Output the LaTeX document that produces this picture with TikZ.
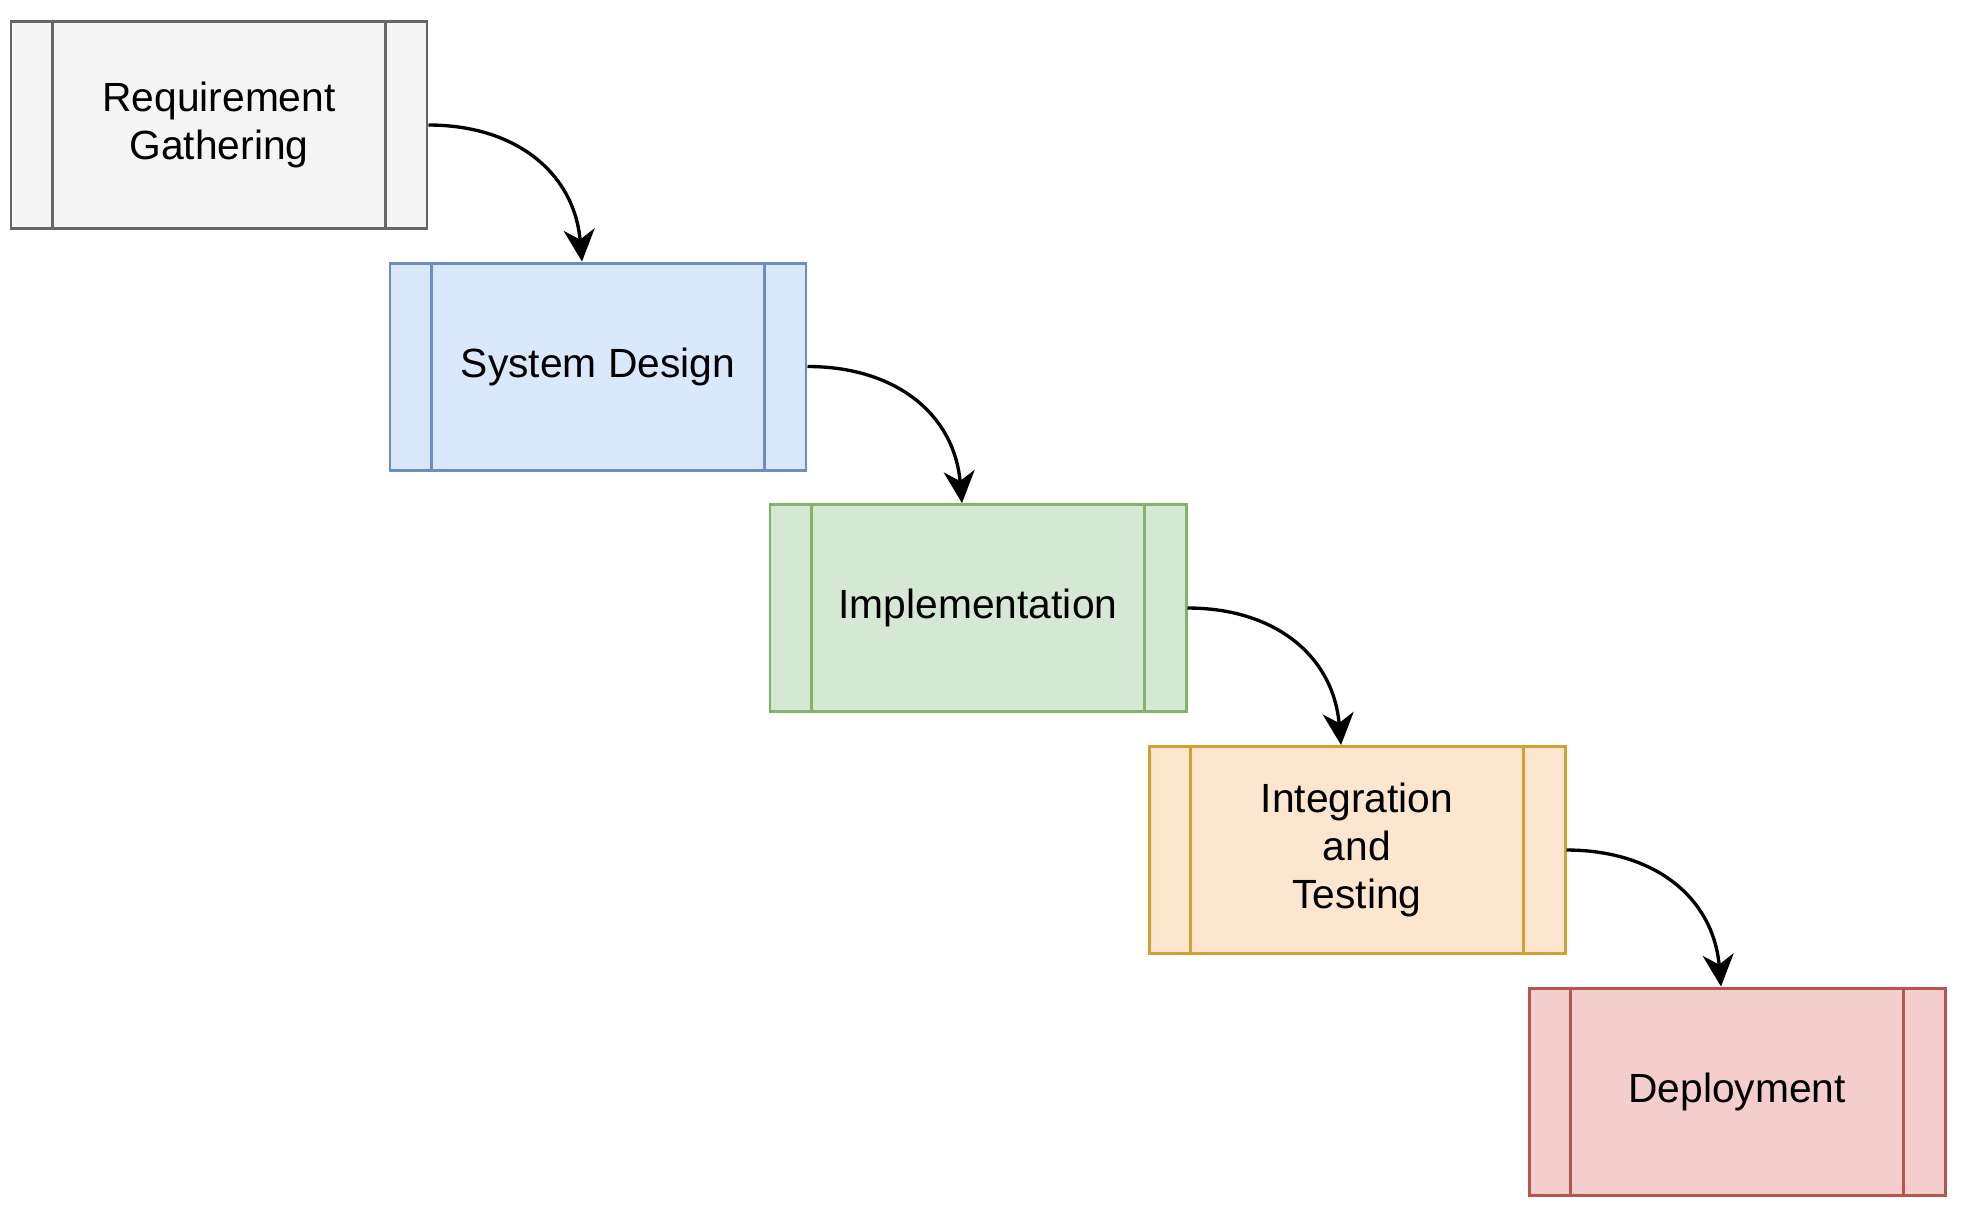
\documentclass[tikz,border=0pt]{standalone}
\usepackage{fontspec}
\setmainfont{Liberation Sans}
\usetikzlibrary{arrows.meta}
\definecolor{grayfill}{HTML}{F5F5F5}
\definecolor{graydraw}{HTML}{666666}
\definecolor{bluefill}{HTML}{DAE8FC}
\definecolor{bluedraw}{HTML}{6C8EBF}
\definecolor{greenfill}{HTML}{D5E8D4}
\definecolor{greendraw}{HTML}{82B366}
\definecolor{orangefill}{HTML}{FCE6CF}
\definecolor{orangedraw}{HTML}{D6A030}
\definecolor{redfill}{HTML}{F4CECC}
\definecolor{reddraw}{HTML}{B85450}
\tikzset{
  stage/.style={draw=#1draw, fill=#1fill, line width=0.85pt,
    minimum width=4.16cm, minimum height=2.07cm, inner sep=0pt,
    align=center, font=\fontsize{11.6}{13.7}\selectfont,
    path picture={
      \draw[#1draw, line width=0.85pt]
        ([xshift=0.416cm]path picture bounding box.north west) --
        ([xshift=0.416cm]path picture bounding box.south west);
      \draw[#1draw, line width=0.85pt]
        ([xshift=-0.416cm]path picture bounding box.north east) --
        ([xshift=-0.416cm]path picture bounding box.south east);
    }},
  flow/.style={line width=0.95pt, -{Stealth[length=0.32cm, width=0.31cm, inset=0.1cm]}}
}
\begin{document}
\begin{tikzpicture}
        \useasboundingbox (0,0) rectangle (19.62,-12.08);
        % stages of the waterfall
        \node[stage=gray] (req) at (2.19,-1.25) {Requirement\\Gathering};
        \node[stage=blue] (design) at (5.98,-3.665) {System Design};
        \node[stage=green] (impl) at (9.78,-6.08) {Implementation};
        \node[stage=orange] (test) at (13.57,-8.50) {Integration\\and\\Testing};
        \node[stage=red] (deploy) at (17.37,-10.915) {Deployment};
        % arrows down the steps
        \draw[flow] (req.east) to[out=0, in=95, looseness=1.1] ([xshift=-0.16cm]design.north);
        \draw[flow] (design.east) to[out=0, in=95, looseness=1.1] ([xshift=-0.16cm]impl.north);
        \draw[flow] (impl.east) to[out=0, in=95, looseness=1.1] ([xshift=-0.16cm]test.north);
        \draw[flow] (test.east) to[out=0, in=95, looseness=1.1] ([xshift=-0.16cm]deploy.north);
\end{tikzpicture}
\end{document}
